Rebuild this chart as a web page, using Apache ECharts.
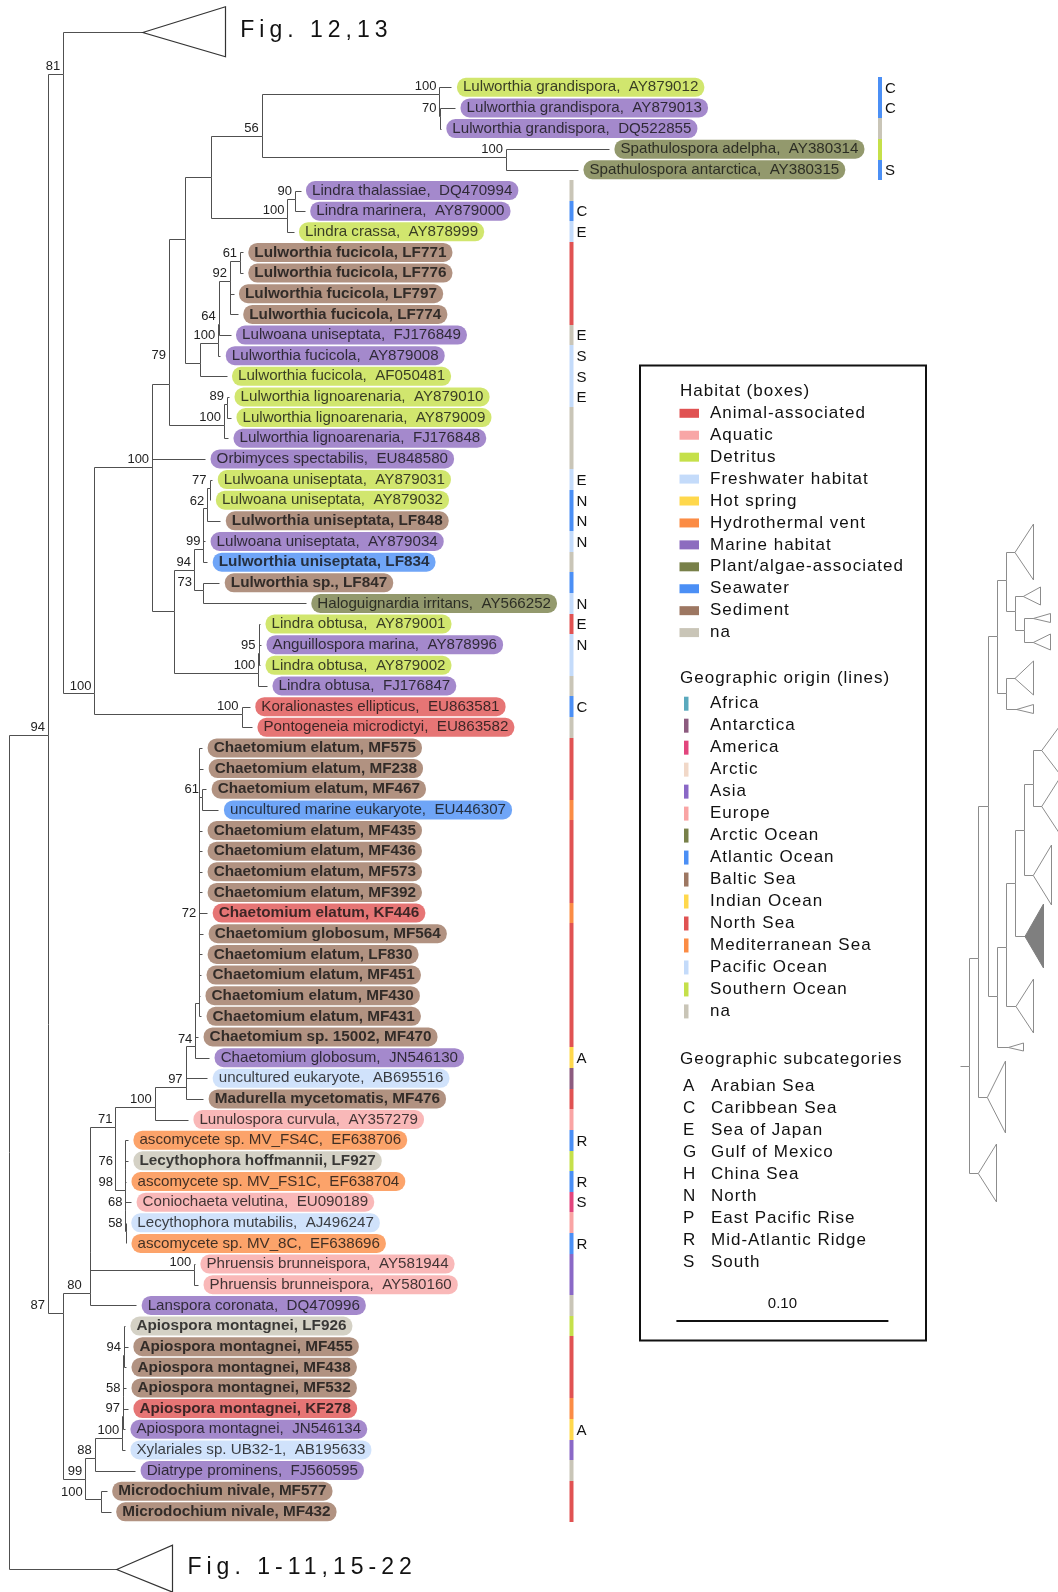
<!DOCTYPE html>
<html>
<head>
<meta charset="utf-8">
<script src="https://cdn.jsdelivr.net/npm/echarts@6/dist/echarts.min.js"></script>
<style>
  html, body { margin: 0; padding: 0; background: #fff; }
  #chart { width: 1058px; height: 1592px; }
</style>
</head>
<body>
<div id="chart"></div>
<script>
// ---------------------------------------------------------------------------
// Taxa, top to bottom (row index = position in these arrays)
// ---------------------------------------------------------------------------
const tipNames = [
  'Lulworthia grandispora,  AY879012', 'Lulworthia grandispora,  AY879013', 'Lulworthia grandispora,  DQ522855',
  'Spathulospora adelpha,  AY380314', 'Spathulospora antarctica,  AY380315',
  'Lindra thalassiae,  DQ470994', 'Lindra marinera,  AY879000', 'Lindra crassa,  AY878999',
  'Lulworthia fucicola, LF771', 'Lulworthia fucicola, LF776', 'Lulworthia fucicola, LF797', 'Lulworthia fucicola, LF774',
  'Lulwoana uniseptata,  FJ176849', 'Lulworthia fucicola,  AY879008', 'Lulworthia fucicola,  AF050481',
  'Lulworthia lignoarenaria,  AY879010', 'Lulworthia lignoarenaria,  AY879009', 'Lulworthia lignoarenaria,  FJ176848',
  'Orbimyces spectabilis,  EU848580', 'Lulwoana uniseptata,  AY879031', 'Lulwoana uniseptata,  AY879032',
  'Lulworthia uniseptata, LF848', 'Lulwoana uniseptata,  AY879034', 'Lulworthia uniseptata, LF834',
  'Lulworthia sp., LF847', 'Haloguignardia irritans,  AY566252',
  'Lindra obtusa,  AY879001', 'Anguillospora marina,  AY878996', 'Lindra obtusa,  AY879002', 'Lindra obtusa,  FJ176847',
  'Koralionastes ellipticus,  EU863581', 'Pontogeneia microdictyi,  EU863582',
  'Chaetomium elatum, MF575', 'Chaetomium elatum, MF238', 'Chaetomium elatum, MF467', 'uncultured marine eukaryote,  EU446307',
  'Chaetomium elatum, MF435', 'Chaetomium elatum, MF436', 'Chaetomium elatum, MF573', 'Chaetomium elatum, MF392',
  'Chaetomium elatum, KF446', 'Chaetomium globosum, MF564', 'Chaetomium elatum, LF830', 'Chaetomium elatum, MF451',
  'Chaetomium elatum, MF430', 'Chaetomium elatum, MF431', 'Chaetomium sp. 15002, MF470', 'Chaetomium globosum,  JN546130',
  'uncultured eukaryote,  AB695516', 'Madurella mycetomatis, MF476', 'Lunulospora curvula,  AY357279',
  'ascomycete sp. MV_FS4C,  EF638706', 'Lecythophora hoffmannii, LF927', 'ascomycete sp. MV_FS1C,  EF638704',
  'Coniochaeta velutina,  EU090189', 'Lecythophora mutabilis,  AJ496247', 'ascomycete sp. MV_8C,  EF638696',
  'Phruensis brunneispora,  AY581944', 'Phruensis brunneispora,  AY580160', 'Lanspora coronata,  DQ470996',
  'Apiospora montagnei, LF926', 'Apiospora montagnei, MF455', 'Apiospora montagnei, MF438', 'Apiospora montagnei, MF532',
  'Apiospora montagnei, KF278', 'Apiospora montagnei,  JN546134', 'Xylariales sp. UB32-1,  AB195633',
  'Diatrype prominens,  FJ560595', 'Microdochium nivale, MF577', 'Microdochium nivale, MF432'
];

// distance from the root to each tip (substitutions per site)
const tipDepth = [
  0.2087, 0.2104, 0.2037, 0.2830, 0.2684, 0.1375, 0.1395, 0.1342, 0.1103, 0.1103,
  0.1059, 0.1079, 0.1045, 0.0997, 0.1026, 0.1038, 0.1047, 0.1033, 0.0925, 0.0959,
  0.0950, 0.0997, 0.0925, 0.0935, 0.0992, 0.1400, 0.1184, 0.1189, 0.1184, 0.1217,
  0.1136, 0.1146, 0.0911, 0.0916, 0.0930, 0.0988, 0.0911, 0.0911, 0.0911, 0.0911,
  0.0935, 0.0916, 0.0911, 0.0906, 0.0901, 0.0906, 0.0892, 0.0944, 0.0935, 0.0916,
  0.0844, 0.0561, 0.0561, 0.0552, 0.0576, 0.0551, 0.0552, 0.0877, 0.0892, 0.0600,
  0.0547, 0.0561, 0.0552, 0.0552, 0.0561, 0.0547, 0.0547, 0.0595, 0.0461, 0.0480
];

// habitat of each isolate (box colour)
const tipHabitat = [
  'de', 'ma', 'ma', 'pa', 'pa', 'ma', 'ma', 'de', 'se', 'se',
  'se', 'se', 'ma', 'ma', 'de', 'de', 'de', 'ma', 'ma', 'de',
  'de', 'se', 'ma', 'sw', 'se', 'pa', 'de', 'ma', 'de', 'ma',
  'an', 'an', 'se', 'se', 'se', 'sw', 'se', 'se', 'se', 'se',
  'an', 'se', 'se', 'se', 'se', 'se', 'se', 'ma', 'fw', 'se',
  'aq', 'hv', 'na', 'hv', 'aq', 'fw', 'hv', 'aq', 'aq', 'ma',
  'na', 'se', 'se', 'se', 'an', 'ma', 'fw', 'ma', 'se', 'se'
];

// geographic origin of each isolate (line colour)
const tipOrigin = [
  'atl', 'atl', 'na', 'sou', 'atl', 'na', 'atl', 'pac', 'nor', 'nor',
  'nor', 'nor', 'na', 'pac', 'pac', 'pac', 'na', 'na', 'na', 'pac',
  'atl', 'atl', 'pac', 'na', 'atl', 'pac', 'nor', 'pac', 'pac', 'na',
  'atl', 'na', 'nor', 'nor', 'nor', 'med', 'nor', 'nor', 'nor', 'nor',
  'med', 'nor', 'nor', 'nor', 'nor', 'nor', 'nor', 'ind', 'ant', 'nor',
  'eur', 'atl', 'sou', 'atl', 'ame', 'eur', 'atl', 'asi', 'asi', 'na',
  'sou', 'nor', 'nor', 'nor', 'med', 'ind', 'asi', 'na', 'nor', 'nor'
];

// geographic subcategory letter ('' = none)
const tipSubregion = [
  'C', 'C', '', '', 'S', '', 'C', 'E', '', '',
  '', '', 'E', 'S', 'S', 'E', '', '', '', 'E',
  'N', 'N', 'N', '', '', 'N', 'E', 'N', '', '',
  'C', '', '', '', '', '', '', '', '', '',
  '', '', '', '', '', '', '', 'A', '', '',
  '', 'R', '', 'R', 'S', '', 'R', '', '', '',
  '', '', '', '', '', 'A', '', '', '', ''
];

// ---------------------------------------------------------------------------
// Legend categories
// ---------------------------------------------------------------------------
const habitatKeys   = ['an', 'aq', 'de', 'fw', 'hs', 'hv', 'ma', 'pa', 'sw', 'se', 'na'];
const habitatNames  = ['Animal-associated', 'Aquatic', 'Detritus', 'Freshwater habitat', 'Hot spring',
                       'Hydrothermal vent', 'Marine habitat', 'Plant/algae-associated', 'Seawater', 'Sediment', 'na'];
const habitatColors = ['#e05252', '#f8a6a6', '#c5e04a', '#c4dbfa', '#ffd84c', '#fb8c45',
                       '#8d6cbf', '#788049', '#4b8ff5', '#9d7762', '#c9c5b7'];

const originKeys   = ['afr', 'ant', 'ame', 'arc', 'asi', 'eur', 'aro', 'atl', 'bal', 'ind', 'nor', 'med', 'pac', 'sou', 'na'];
const originNames  = ['Africa', 'Antarctica', 'America', 'Arctic', 'Asia', 'Europe', 'Arctic Ocean', 'Atlantic Ocean',
                      'Baltic Sea', 'Indian Ocean', 'North Sea', 'Mediterranean Sea', 'Pacific Ocean', 'Southern Ocean', 'na'];
const originColors = ['#5aa9bd', '#8c5b7f', '#e2457d', '#f1d8c8', '#8a68c6', '#f9a4a4', '#788049', '#4b8ff5',
                      '#9d7762', '#ffd84c', '#e05252', '#fb8c45', '#c4dbfa', '#c5e04a', '#c9c5b7'];

const subregionCodes = ['A', 'C', 'E', 'G', 'H', 'N', 'P', 'R', 'S'];
const subregionNames = ['Arabian Sea', 'Caribbean Sea', 'Sea of Japan', 'Gulf of Mexico', 'China Sea',
                        'North', 'East Pacific Rise', 'Mid-Atlantic Ridge', 'South'];

// ---------------------------------------------------------------------------
// Tree topology. Internal nodes: [id, depth, row, bootstrap, children, labelAnchor?]
// children: tip row numbers, node ids or collapsed-clade ids
// ---------------------------------------------------------------------------
const nodes = [
  ['root',  0.0000, 31.35, '',    ['n94', 'T2']],
  ['n94',   0.0184, 31.35, '94',  ['n81', 'n87']],
  ['n81',   0.0256, -0.64, '81',  ['T1', 'n100a']],
  ['n100a', 0.0403, 29.36, '100', ['n100b', 'n100c']],
  ['n100c', 0.1097, 30.36, '100', [30, 31]],
  ['n100b', 0.0675, 18.37, '100', ['n79', 18, 'nx']],
  ['n79',   0.0755, 14.37, '79',  ['nx2', 'nlg'], [0.0755, 13.35]],
  ['nx2',   0.0830,  7.36, '',    ['nx1', 'nfa']],
  ['nx1',   0.0951,  4.36, '',    ['n56', 'nl100']],
  ['n56',   0.1192,  2.36, '56',  ['ng100', 'ns100']],
  ['ng100', 0.2030,  0.33, '100', [0, 'n70']],
  ['n70',   0.2031,  1.39, '70',  [1, 2]],
  ['ns100', 0.2344,  3.36, '100', [3, 4]],
  ['nl100', 0.1313,  6.34, '100', ['n90', 7]],
  ['n90',   0.1349,  5.40, '90',  [5, 6]],
  ['nfa',   0.0901, 13.36, '',    ['nf100', 14]],
  ['nf100', 0.0987, 12.38, '100', ['n64', 13]],
  ['n64',   0.0989, 11.46, '64',  ['n92', 12]],
  ['n92',   0.1042,  9.38, '92',  ['n61', 10, 11]],
  ['n61',   0.1090,  8.41, '61',  [8, 9]],
  ['nlg',   0.1014, 16.35, '100', ['n89', 17]],
  ['n89',   0.1028, 15.33, '89',  [15, 16]],
  ['nx',    0.0780, 25.36, '',    ['n94b', 'nlo']],
  ['n94b',  0.0873, 23.37, '94',  ['n99', 'n73']],
  ['n99',   0.0917, 22.37, '99',  ['n62', 22, 23]],
  ['n62',   0.0935, 20.40, '62',  ['n77', 21]],
  ['n77',   0.0946, 19.40, '77',  [19, 20]],
  ['n73',   0.0914, 24.37, '73',  [24, 25], [0.0877, 24.37]],
  ['nlo',   0.1176, 28.35, '100', ['n95', 29]],
  ['n95',   0.1177, 27.40, '95',  [26, 27, 28]],
  ['n87',   0.0257, 59.35, '87',  ['n80', 'n99b'], [0.0184, 59.35]],
  ['n80',   0.0380, 58.40, '80',  ['nxb', 59], [0.0357, 58.40]],
  ['nxb',   0.0381, 56.40, '',    ['n71', 'n100p']],
  ['n71',   0.0502, 50.35, '71',  ['n100x', 'n98']],
  ['n100x', 0.0687, 49.40, '100', ['n97', 50]],
  ['n97',   0.0833, 48.40, '97',  ['n74', 48, 49]],
  ['n74',   0.0879, 46.46, '74',  ['n72', 46, 47]],
  ['n72',   0.0897, 44.36, '72',  [32, 33, 'n61c', 36, 37, 38, 39, 40, 41, 42, 43, 44, 45], [0.0897, 40.40]],
  ['n61c',  0.0910, 34.37, '61',  [34, 35]],
  ['n98',   0.0547, 53.40, '98',  ['n76', 53, 'n68'], [0.0505, 53.40]],
  ['n76',   0.0549, 52.40, '76',  [51, 52], [0.0505, 52.40]],
  ['n68',   0.0549, 54.40, '68',  [54, 'n58']],
  ['n58',   0.0550, 55.40, '58',  [55, 56]],
  ['n100p', 0.0874, 57.30, '100', [57, 58]],
  ['n99b',  0.0360, 67.40, '99',  ['n88', 'n100m']],
  ['n88',   0.0404, 66.40, '88',  ['nap', 67]],
  ['nap',   0.0534, 65.40, '100', ['n97a', 66]],
  ['n97a',  0.0538, 64.37, '97',  ['n58a', 64, 65]],
  ['n58a',  0.0540, 63.40, '58',  ['n94a', 63]],
  ['n94a',  0.0542, 61.40, '94',  [60, 61, 62]],
  ['n100m', 0.0433, 68.40, '100', [68, 69], [0.0362, 68.40]]
];

// collapsed clades: [id, depth, row, length, half-height in rows, caption]
const collapsed = [
  ['T1', 0.0631, -2.69, 0.0389, 1.21, 'Fig. 12,13'],
  ['T2', 0.0508, 71.75, 0.0263, 1.14, 'Fig. 1-11,15-22']
];

const scaleBar = { start: 0.3148, length: 0.10 };

// ---------------------------------------------------------------------------
// Overview cladogram (position of this part within the whole tree)
// nodes: [id, level, slot, children]; clades: [id, level, slot, length, half-height, highlighted]
// ---------------------------------------------------------------------------
const overviewNodes = [
  ['stem', -1, 56.57, ['o']],
  ['o',  0, 56.57, ['r', 'N']],
  ['r',  1, 45.80, ['c', 'M']],
  ['c',  2, 30.56, ['b', 'd']],
  ['b',  3, 13.60, ['a1', 'b2']],
  ['a1', 4,  8.04, ['A', 'a2']],
  ['a2', 5, 11.05, ['B', 'a3']],
  ['a3', 6, 12.98, ['C', 'D']],
  ['b2', 4, 19.26, ['E', 'F']],
  ['d',  3, 49.60, ['e', 'G']],
  ['e',  4, 44.70, ['f', 'H']],
  ['f',  5, 38.30, ['g', 'I']],
  ['g',  6, 33.00, ['h', 'J']],
  ['h',  7, 28.40, ['K', 'L']]
];
const overviewClades = [
  ['A', 5.02,  5.2, 1.95, 2.8, 0], ['B', 5.93,  9.6, 1.84, 0.9, 0], ['C', 7.03, 11.8, 1.84, 0.45, 0],
  ['D', 7.03, 14.2, 1.84, 0.8, 0], ['E', 5.02, 17.8, 1.95, 1.7, 0], ['F', 5.20, 20.9, 1.76, 0.45, 0],
  ['G', 4.29, 54.7, 1.65, 0.4, 0], ['H', 5.13, 50.6, 1.90, 2.7, 0], ['I', 6.12, 43.6, 1.95, 3.2, 1],
  ['J', 7.03, 37.5, 2.00, 3.0, 0], ['K', 7.96, 25.0, 2.00, 2.5, 0], ['L', 7.96, 30.6, 2.00, 2.9, 0],
  ['M', 1.98, 59.7, 1.95, 3.6, 0], ['N', 0.99, 67.3, 1.95, 2.9, 0]
];

// ---------------------------------------------------------------------------
// Captions and legend are set with open tracking. They use the family name
// "Tracked Sans" (not installed, so the browser falls through to Arial); the
// canvas letterSpacing is switched on only for text drawn in that family.
// ---------------------------------------------------------------------------
const TRACKED_FAMILY = '"Tracked Sans", Arial, "Liberation Sans", sans-serif';
(function () {
  const proto = CanvasRenderingContext2D.prototype;
  if (!('letterSpacing' in proto)) return;
  const fill = proto.fillText;
  proto.fillText = function (text, x, y, maxW) {
    const tracked = /Tracked Sans/.test(this.font);
    let spacing = '0px';
    if (tracked) {
      const m = this.font.match(/(\d+(?:\.\d+)?)px/);
      const size = m ? parseFloat(m[1]) : 12;
      spacing = size >= 20 ? '5px' : '1px';
    }
    const prev = this.letterSpacing;
    this.letterSpacing = spacing;
    const r = maxW === undefined ? fill.call(this, text, x, y) : fill.call(this, text, x, y, maxW);
    this.letterSpacing = prev;
    return r;
  };
})();

// ---------------------------------------------------------------------------
// Derived drawing data
// ---------------------------------------------------------------------------
const habitatColor = k => habitatColors[habitatKeys.indexOf(k)];
const originColor = k => originColors[originKeys.indexOf(k)];
const isOwnIsolate = name => /, [LMK]F\d+$/.test(name);

const nodeById = {};
nodes.forEach(n => { nodeById[n[0]] = n; });
const cladeById = {};
collapsed.forEach(c => { cladeById[c[0]] = c; });
function childPos(ch) {
  if (typeof ch === 'number') return [tipDepth[ch], ch];
  if (nodeById[ch]) return [nodeById[ch][1], nodeById[ch][2]];
  return [cladeById[ch][1], cladeById[ch][2]];
}
const treeEdges = [];
nodes.forEach(n => n[4].forEach(ch => {
  const p = childPos(ch);
  treeEdges.push([n[1], n[2], p[0], p[1]]);
}));
const supportLabels = nodes.filter(n => n[3]).map(n => {
  const a = n[5] || [n[1], n[2]];
  return [a[0], a[1], n[3]];
});

const ovById = {};
overviewNodes.forEach(n => { ovById[n[0]] = n; });
const ovCladeById = {};
overviewClades.forEach(c => { ovCladeById[c[0]] = c; });
const ovEdges = [];
overviewNodes.forEach(n => n[3].forEach(ch => {
  const c = ovById[ch] || ovCladeById[ch];
  ovEdges.push([n[1], n[2], c[1], c[2]]);
}));

const crisp = v => Math.round(v) + 0.5;
const TREE_STROKE = '#505050';
const OV_STROKE = '#8c8c8c';
const TIP_FONT = '"Liberation Sans", Arimo, sans-serif';
const LEGEND_FONT = '17px ' + TRACKED_FAMILY;

// strip column: the first five names run long, so their strip sits further right
const stripX = row => (row < 5 ? 878 : 569.5);

function elbowItem(api, stroke) {
  const a = api.coord([api.value(0), api.value(1)]);
  const b = api.coord([api.value(0), api.value(3)]);
  const c = api.coord([api.value(2), api.value(3)]);
  return {
    type: 'polyline',
    shape: { points: [[crisp(a[0]), crisp(a[1])], [crisp(b[0]), crisp(b[1])], [crisp(c[0]), crisp(c[1])]] },
    style: { stroke, lineWidth: 1, fill: null }
  };
}

// ---------------------------------------------------------------------------
// Legend (graphic elements built from the category arrays)
// ---------------------------------------------------------------------------
const legendEls = [];
legendEls.push({ type: 'rect', shape: { x: 640, y: 365.5, width: 286, height: 975 },
  style: { fill: 'rgba(0,0,0,0)', stroke: '#111', lineWidth: 2 } });
function legendText(text, x, y) {
  return { type: 'text', x, y, style: { text, font: LEGEND_FONT, fill: '#111',
    textVerticalAlign: 'middle', verticalAlign: 'middle', textAlign: 'left', align: 'left' } };
}
legendEls.push(legendText('Habitat (boxes)', 680, 391));
habitatNames.forEach((name, i) => {
  const y = 413.3 + i * 21.93;
  legendEls.push({ type: 'rect', shape: { x: 679.5, y: y - 4.5, width: 19.5, height: 9 }, style: { fill: habitatColors[i] } });
  legendEls.push(legendText(name, 710, y));
});
legendEls.push(legendText('Geographic origin (lines)', 680, 678));
originNames.forEach((name, i) => {
  const y = 703.7 + i * 21.98;
  legendEls.push({ type: 'rect', shape: { x: 684, y: y - 7, width: 4.5, height: 14 }, style: { fill: originColors[i] } });
  legendEls.push(legendText(name, 710, y));
});
legendEls.push(legendText('Geographic subcategories', 680, 1059));
subregionCodes.forEach((code, i) => {
  const y = 1086.5 + i * 21.95;
  legendEls.push(legendText(code, 683, y));
  legendEls.push(legendText(subregionNames[i], 711, y));
});

// ---------------------------------------------------------------------------
const chart = echarts.init(document.getElementById('chart'), null, { renderer: 'canvas' });
const hiddenAxis = { show: false, splitLine: { show: false }, axisLine: { show: false },
  axisTick: { show: false }, axisLabel: { show: false } };

chart.setOption({
  animation: false,
  backgroundColor: '#ffffff',
  textStyle: { fontFamily: TIP_FONT },
  grid: [
    { left: 9, right: 0, top: 4.7, bottom: 7.9, outerBoundsMode: 'none', containLabel: false },
    { left: 960.2, width: 100.1, top: 500, height: 700, outerBoundsMode: 'none', containLabel: false }
  ],
  xAxis: [
    Object.assign({ type: 'value', gridIndex: 0, min: 0, max: 0.4948 }, hiddenAxis),
    Object.assign({ type: 'value', gridIndex: 1, min: -1, max: 10 }, hiddenAxis)
  ],
  yAxis: [
    Object.assign({ type: 'value', gridIndex: 0, min: -4, max: 72.5, inverse: true }, hiddenAxis),
    Object.assign({ type: 'value', gridIndex: 1, min: 0, max: 70, inverse: true }, hiddenAxis)
  ],
  graphic: { elements: legendEls },
  series: [
    // branches
    {
      type: 'custom', name: 'branches', xAxisIndex: 0, yAxisIndex: 0, clip: false, silent: true, z: 2,
      data: treeEdges,
      renderItem: (params, api) => elbowItem(api, TREE_STROKE)
    },
    // collapsed clades with their captions
    {
      type: 'custom', name: 'collapsed', xAxisIndex: 0, yAxisIndex: 0, clip: false, silent: true, z: 2,
      data: collapsed.map(c => [c[1], c[2]]),
      renderItem: (params, api) => {
        const c = collapsed[params.dataIndex];
        const tip = api.coord([c[1], c[2]]);
        const top = api.coord([c[1] + c[3], c[2] - c[4]]);
        const bot = api.coord([c[1] + c[3], c[2] + c[4]]);
        return {
          type: 'group',
          children: [
            { type: 'polygon', shape: { points: [[tip[0], crisp(tip[1])], [crisp(top[0]), top[1]], [crisp(bot[0]), bot[1]]] },
              style: { fill: '#fff', stroke: '#333', lineWidth: 1.2 } },
            { type: 'text', style: { text: c[5], x: top[0] + 15, y: tip[1] - 1, font: '23px ' + TRACKED_FAMILY,
              fill: '#111', textAlign: 'left', align: 'left', textVerticalAlign: 'middle', verticalAlign: 'middle' } }
          ]
        };
      }
    },
    // bootstrap support
    {
      type: 'custom', name: 'support', xAxisIndex: 0, yAxisIndex: 0, clip: false, silent: true, z: 3,
      data: supportLabels.map(s => [s[0], s[1]]),
      renderItem: (params, api) => {
        const s = supportLabels[params.dataIndex];
        const p = api.coord([s[0], s[1]]);
        return { type: 'text', style: { text: s[2], x: p[0] - 3, y: p[1] - 1, font: '13px ' + TIP_FONT, fill: '#222',
          textAlign: 'right', align: 'right', textVerticalAlign: 'bottom', verticalAlign: 'bottom' } };
      }
    },
    // taxon names in habitat-coloured boxes (isolates of this study in bold)
    {
      type: 'scatter', name: 'taxa', xAxisIndex: 0, yAxisIndex: 0, symbolSize: 1, silent: true, z: 5,
      itemStyle: { color: 'rgba(0,0,0,0)' },
      emphasis: { disabled: true },
      label: {
        show: true, position: 'right', distance: 5, formatter: p => p.name,
        color: '#111', fontSize: 15.15, fontFamily: TIP_FONT, lineHeight: 17,
        padding: [1, 6, 1, 6], borderRadius: 9
      },
      data: tipNames.map((name, i) => {
        const own = isOwnIsolate(name);
        return {
          name,
          value: [tipDepth[i], i],
          label: { backgroundColor: habitatColor(tipHabitat[i]), fontFamily: TIP_FONT,
            fontWeight: own ? 'bold' : 'normal', fontSize: own ? 15.3 : 15.15 }
        };
      })
    },
    // geographic origin strip and subcategory letters
    {
      type: 'custom', name: 'origin', xAxisIndex: 0, yAxisIndex: 0, clip: false, silent: true, z: 4,
      data: tipNames.map((_, i) => [0, i]),
      renderItem: (params, api) => {
        const r = params.dataIndex;
        const y0 = Math.round(api.coord([0, r - 0.5])[1]);
        const y1 = Math.round(api.coord([0, r + 0.5])[1]);
        const x = stripX(r);
        const kids = [{ type: 'rect', shape: { x, y: y0, width: 4, height: y1 - y0 }, style: { fill: originColor(tipOrigin[r]) } }];
        if (tipSubregion[r]) {
          kids.push({ type: 'text', style: { text: tipSubregion[r], x: x + 7, y: (y0 + y1) / 2 + 1, font: '15px ' + TIP_FONT,
            fill: '#111', textAlign: 'left', align: 'left', textVerticalAlign: 'middle', verticalAlign: 'middle' } });
        }
        return { type: 'group', children: kids };
      }
    },
    // scale bar
    {
      type: 'custom', name: 'scale', xAxisIndex: 0, yAxisIndex: 0, clip: false, silent: true, z: 4,
      data: [[scaleBar.start, 0]],
      renderItem: (params, api) => {
        const a = api.coord([scaleBar.start, 0]);
        const b = api.coord([scaleBar.start + scaleBar.length, 0]);
        return {
          type: 'group',
          children: [
            { type: 'line', shape: { x1: a[0], y1: 1321, x2: b[0], y2: 1321 }, style: { stroke: '#111', lineWidth: 2 } },
            { type: 'text', style: { text: scaleBar.length.toFixed(2), x: (a[0] + b[0]) / 2, y: 1304, font: '15px ' + TIP_FONT,
              fill: '#111', textAlign: 'center', align: 'center', textVerticalAlign: 'middle', verticalAlign: 'middle' } }
          ]
        };
      }
    },
    // overview cladogram: branches
    {
      type: 'custom', name: 'overview', xAxisIndex: 1, yAxisIndex: 1, clip: false, silent: true, z: 2,
      data: ovEdges,
      renderItem: (params, api) => elbowItem(api, OV_STROKE)
    },
    // overview cladogram: collapsed groups
    {
      type: 'custom', name: 'overviewClades', xAxisIndex: 1, yAxisIndex: 1, clip: false, silent: true, z: 2,
      data: overviewClades.map(c => [c[1], c[2]]),
      renderItem: (params, api) => {
        const c = overviewClades[params.dataIndex];
        const tip = api.coord([c[1], c[2]]);
        const top = api.coord([c[1] + c[3], c[2] - c[4]]);
        const bot = api.coord([c[1] + c[3], c[2] + c[4]]);
        return { type: 'polygon', shape: { points: [[tip[0], crisp(tip[1])], [crisp(top[0]), top[1]], [crisp(bot[0]), bot[1]]] },
          style: { fill: c[5] ? '#7f7f7f' : '#fff', stroke: c[5] ? '#7f7f7f' : OV_STROKE, lineWidth: 1 } };
      }
    }
  ]
});
</script>
</body>
</html>
